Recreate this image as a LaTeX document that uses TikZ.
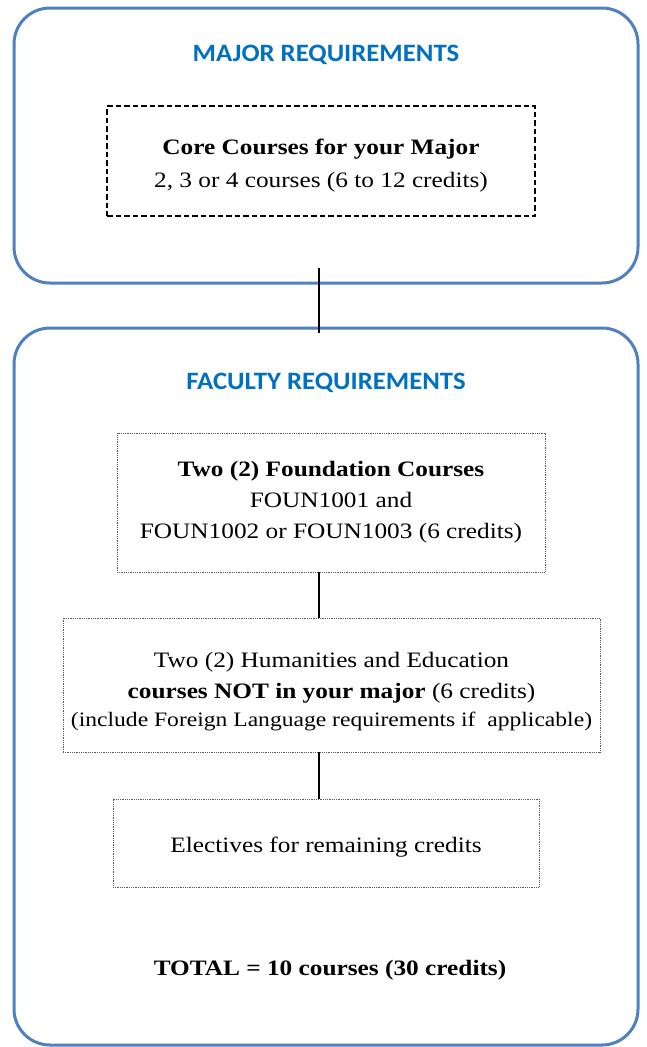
\documentclass[tikz,border=0pt]{standalone}
\usepackage{fontspec}
\setmainfont{Liberation Serif}[FakeStretch=1.15]
\newfontfamily\headfont{Carlito}[FakeStretch=1.07]
\definecolor{frameblue}{RGB}{79,129,189}
\definecolor{headblue}{RGB}{0,112,192}
\newcommand{\pushdown}[1]{\rule{0pt}{#1}}
\begin{document}
\begin{tikzpicture}[x=1pt,y=-1pt,
  group/.style={draw=frameblue,line width=3pt,rounded corners=36pt,inner sep=0pt},
  heading/.style={text=headblue,inner sep=0pt,font=\headfont\bfseries\fontsize{25}{30}\selectfont},
  corebox/.style={draw=black,line width=1.8pt,dash pattern=on 5.5pt off 3pt,inner sep=0pt,align=center,font=\fontsize{22}{33}\selectfont},
  stepbox/.style={draw=black!65,line width=0.8pt,densely dotted,inner sep=0pt,align=center,font=\fontsize{22}{31}\selectfont},
  plaintext/.style={inner sep=0pt,align=center,font=\fontsize{22}{31}\selectfont},
  link/.style={draw=black,line width=1.5pt}]
\useasboundingbox (0,0) rectangle (647,1047);
% outer groups
\node[group,minimum width=624pt,minimum height=275pt] (major) at (326,145.5) {};
\node[group,minimum width=624pt,minimum height=717pt] (faculty) at (326,686.5) {};
% headings
\node[heading] (majorhead) at (326,55) {MAJOR REQUIREMENTS};
\node[heading] (facultyhead) at (326,383) {FACULTY REQUIREMENTS};
% boxes
\node[corebox,minimum width=428pt,minimum height=110pt] (core) at (321,161)
  {\pushdown{25pt}\textbf{Core Courses for your Major}\\2, 3 or 4 courses (6 to 12 credits)};
\node[stepbox,minimum width=428pt,minimum height=139pt] (found) at (331,502.5)
  {\textbf{Two (2) Foundation Courses}\\FOUN1001 and\\FOUN1002 or FOUN1003 (6 credits)};
\node[stepbox,minimum width=537pt,minimum height=134pt] (hum) at (331.5,685)
  {\pushdown{29pt}Two (2) Humanities and Education\\\textbf{courses NOT in your major} (6 credits)\\[-3pt]
   {\fontsize{20.5}{28}\selectfont (include Foreign Language requirements if\ \ applicable)}};
\node[stepbox,minimum width=426pt,minimum height=88pt] (elect) at (326,843)
  {\pushdown{23pt}Electives for remaining credits};
\node[plaintext] (total) at (330,970) {\textbf{TOTAL = 10 courses (30 credits)}};
% connectors
\coordinate (cx) at (319,0);
\coordinate (m1) at (319,268);
\coordinate (m2) at (319,333);
\draw[link] (m1) -- (m2);
\draw[link] (found.south -| cx) -- (hum.north -| cx);
\draw[link] (hum.south -| cx) -- (elect.north -| cx);
\end{tikzpicture}
\end{document}
